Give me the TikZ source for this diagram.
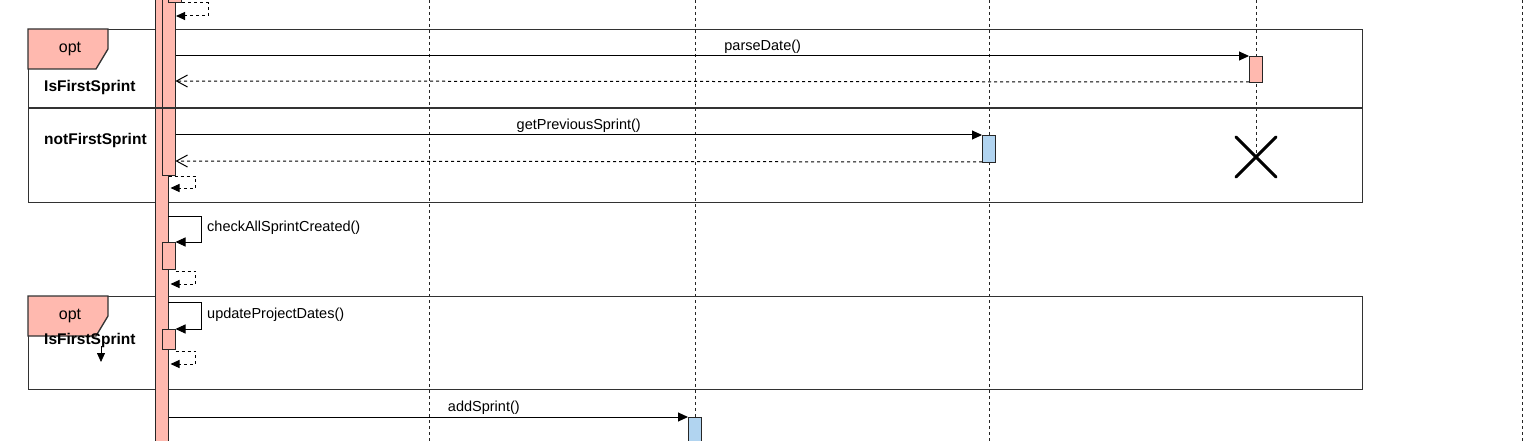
\documentclass[tikz,border=0pt]{standalone}
\usepackage{fontspec}
\setmainfont{Liberation Sans}
\usetikzlibrary{arrows.meta,positioning}
\definecolor{actpink}{RGB}{255,185,175}
\definecolor{actblue}{RGB}{177,212,240}
\definecolor{framegray}{RGB}{50,50,50}
\newcommand{\optframe}[3]{
    \node[frame, minimum height=#3] (#1) at (28,#2) {};
    \draw[optbox] (#1.north west) -- ++(80,0) -- ++(0,20) -- ++(-12,20) -- ++(-68,0) -- cycle;
    \node[opttext] (#1-tag) at ([shift={(42,20)}]#1.north west) {opt};
}

\begin{document}
\begin{tikzpicture}[
        x=1pt, y=-1pt,
        lifeline/.style={draw=black!85, line width=1pt, dash pattern=on 3pt off 3pt},
        bar/.style={draw=black!85, fill=actpink, line width=1pt, anchor=north, minimum width=13pt, inner sep=0pt},
        bluebar/.style={bar, fill=actblue},
        frame/.style={draw=framegray, line width=1.3pt, anchor=north west, minimum width=1334pt, inner sep=0pt},
        optbox/.style={draw=framegray, fill=actpink, line width=1.3pt},
        opttext/.style={font=\fontsize{16}{19}\selectfont},
        guard/.style={anchor=west, inner sep=0pt, font=\fontsize{15.5}{18}\selectfont\bfseries},
        lbl/.style={font=\fontsize{14.5}{17}\selectfont, inner sep=2pt},
        msg/.style={line width=1pt, -{Triangle[length=10pt,width=9pt]}},
        reply/.style={line width=1pt, dash pattern=on 3pt off 3pt, -{Straight Barb[length=11pt,width=12pt]}},
        selfret/.style={line width=1pt, dash pattern=on 3pt off 3pt, -{Triangle[length=9pt,width=8pt]}},
    ]
    \useasboundingbox (0,0) rectangle (1534,441);
    % lifelines
    \foreach \n/\x/\y in {ctl/429/441, svc/695/441, repo/989/441, util/1256/157, misc/1522/441}{
        \draw[lifeline] (\x,0) -- (\x,\y) coordinate (\n-end);
    }
    \draw[line width=3pt, line cap=round] (util-end) ++(-20,-20) -- ++(40,40) ++(-40,0) -- ++(40,-40);

    % opt frames
    \optframe{first}{29}{173pt}
    \optframe{second}{296}{93pt}
    \node[guard] (g1) at (44,87) {IsFirstSprint};
    \node[guard] (g2) at (44,140) {notFirstSprint};
    \node[guard] (g3) at (44,340) {IsFirstSprint};
    \coordinate (stray) at (101,346);
    \draw[line width=.8pt, -{Triangle[length=9pt,width=8pt]}] (stray) -- ++(0,16);

    % activations of the caller
    \node[bar, minimum height=460pt] (outer) at (161.5,-10) {};
    \node[bar, minimum height=185pt] (inner) at (168.5,-10) {};
    \node[bar, minimum height=12pt] (third) at (175,-10) {};
    \draw[framegray, line width=1.1pt] (first.west |- 0,108) -- (first.east |- 0,108);

    \draw[selfret] (third.south east) -- ++(26,0) |- ++(-32,13);

    % parseDate
    \node[bar, minimum height=26pt] (pd) at (1256,56) {};
    \draw[msg] (inner.east |- pd.north) -- (pd.north west) node[lbl, pos=.547, above] {parseDate()};
    \draw[reply] (pd.south west) ++(0,-1) -- (inner.east |- 0,81);

    % getPreviousSprint
    \node[bluebar, minimum height=27pt] (gp) at (989,135) {};
    \draw[msg] (inner.east |- gp.north) -- (gp.north west) node[lbl, midway, above] {getPreviousSprint()};
    \draw[reply] (gp.south west) ++(0,-1) -- (inner.east |- 0,161);

    \draw[selfret] (outer.east |- inner.south) -- ++(27,0) |- ++(-25,12);

    % checkAllSprintCreated
    \node[bar, minimum height=27pt] (ca) at (168.5,242) {};
    \coordinate (ca-in) at (168,216);
    \draw[msg] (ca-in) -- ++(33,0) |- (ca.north east);
    \node[lbl, anchor=west, inner sep=0pt] (ca-lbl) at (207,228) {checkAllSprintCreated()};
    \draw[selfret] (ca.south east) ++(0,1) -- ++(20,0) |- ++(-25,13);

    % updateProjectDates
    \node[bar, minimum height=20pt] (up) at (168.5,329) {};
    \coordinate (up-in) at (168,302);
    \draw[msg] (up-in) -- ++(33,0) |- (up.north east);
    \node[lbl, anchor=west, inner sep=0pt] (up-lbl) at (207,315) {updateProjectDates()};
    \draw[selfret] (up.south east) ++(0,1) -- ++(20,0) |- ++(-25,13);

    % addSprint
    \node[bluebar, minimum height=40pt] (as) at (695,417) {};
    \draw[msg] (outer.east |- as.north) -- (as.north west) node[lbl, pos=.607, above] {addSprint()};
\end{tikzpicture}
\end{document}
